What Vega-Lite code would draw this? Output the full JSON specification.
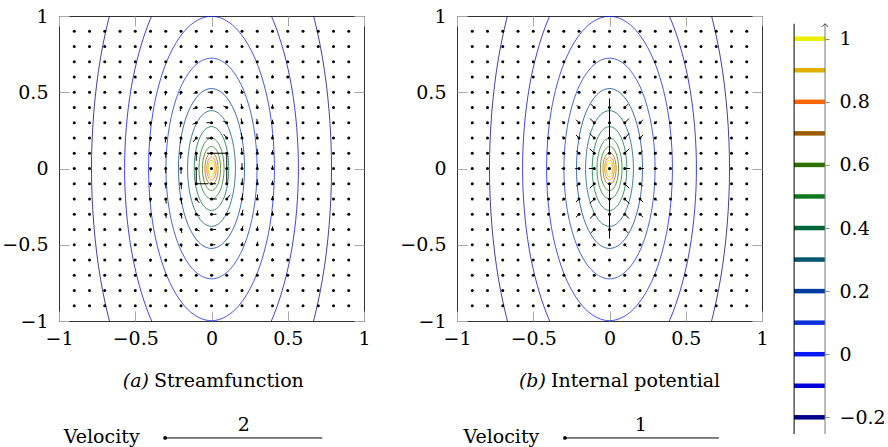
{
"$schema": "https://vega.github.io/schema/vega-lite/v6.json",
"padding": {"left": 1, "top": 6, "right": 5, "bottom": 0},
"config": {
  "font": "DejaVu Serif",
  "view": {"stroke": null},
  "axis": {"domain": false, "grid": false, "tickColor": "#a8a8a8", "tickSize": -10, "labelFont": "DejaVu Serif", "labelFontSize": 19, "labelColor": "black", "labelPadding": 21, "labelFlush": false, "labelOverlap": false, "title": null, "format": "~g"}
},
"datasets": {
  "grid": [
    {"x": -0.9, "ys": [-0.9,-0.8,-0.7,-0.6,-0.5,-0.4,-0.3,-0.2,-0.1,0,0.1,0.2,0.3,0.4,0.5,0.6,0.7,0.8,0.9]},
    {"x": -0.8, "ys": [-0.9,-0.8,-0.7,-0.6,-0.5,-0.4,-0.3,-0.2,-0.1,0,0.1,0.2,0.3,0.4,0.5,0.6,0.7,0.8,0.9]},
    {"x": -0.7, "ys": [-0.9,-0.8,-0.7,-0.6,-0.5,-0.4,-0.3,-0.2,-0.1,0,0.1,0.2,0.3,0.4,0.5,0.6,0.7,0.8,0.9]},
    {"x": -0.6, "ys": [-0.9,-0.8,-0.7,-0.6,-0.5,-0.4,-0.3,-0.2,-0.1,0,0.1,0.2,0.3,0.4,0.5,0.6,0.7,0.8,0.9]},
    {"x": -0.5, "ys": [-0.9,-0.8,-0.7,-0.6,-0.5,-0.4,-0.3,-0.2,-0.1,0,0.1,0.2,0.3,0.4,0.5,0.6,0.7,0.8,0.9]},
    {"x": -0.4, "ys": [-0.9,-0.8,-0.7,-0.6,-0.5,-0.4,-0.3,-0.2,-0.1,0,0.1,0.2,0.3,0.4,0.5,0.6,0.7,0.8,0.9]},
    {"x": -0.3, "ys": [-0.9,-0.8,-0.7,-0.6,-0.5,-0.4,-0.3,-0.2,-0.1,0,0.1,0.2,0.3,0.4,0.5,0.6,0.7,0.8,0.9]},
    {"x": -0.2, "ys": [-0.9,-0.8,-0.7,-0.6,-0.5,-0.4,-0.3,-0.2,-0.1,0,0.1,0.2,0.3,0.4,0.5,0.6,0.7,0.8,0.9]},
    {"x": -0.1, "ys": [-0.9,-0.8,-0.7,-0.6,-0.5,-0.4,-0.3,-0.2,-0.1,0,0.1,0.2,0.3,0.4,0.5,0.6,0.7,0.8,0.9]},
    {"x": 0, "ys": [-0.9,-0.8,-0.7,-0.6,-0.5,-0.4,-0.3,-0.2,-0.1,0,0.1,0.2,0.3,0.4,0.5,0.6,0.7,0.8,0.9]},
    {"x": 0.1, "ys": [-0.9,-0.8,-0.7,-0.6,-0.5,-0.4,-0.3,-0.2,-0.1,0,0.1,0.2,0.3,0.4,0.5,0.6,0.7,0.8,0.9]},
    {"x": 0.2, "ys": [-0.9,-0.8,-0.7,-0.6,-0.5,-0.4,-0.3,-0.2,-0.1,0,0.1,0.2,0.3,0.4,0.5,0.6,0.7,0.8,0.9]},
    {"x": 0.3, "ys": [-0.9,-0.8,-0.7,-0.6,-0.5,-0.4,-0.3,-0.2,-0.1,0,0.1,0.2,0.3,0.4,0.5,0.6,0.7,0.8,0.9]},
    {"x": 0.4, "ys": [-0.9,-0.8,-0.7,-0.6,-0.5,-0.4,-0.3,-0.2,-0.1,0,0.1,0.2,0.3,0.4,0.5,0.6,0.7,0.8,0.9]},
    {"x": 0.5, "ys": [-0.9,-0.8,-0.7,-0.6,-0.5,-0.4,-0.3,-0.2,-0.1,0,0.1,0.2,0.3,0.4,0.5,0.6,0.7,0.8,0.9]},
    {"x": 0.6, "ys": [-0.9,-0.8,-0.7,-0.6,-0.5,-0.4,-0.3,-0.2,-0.1,0,0.1,0.2,0.3,0.4,0.5,0.6,0.7,0.8,0.9]},
    {"x": 0.7, "ys": [-0.9,-0.8,-0.7,-0.6,-0.5,-0.4,-0.3,-0.2,-0.1,0,0.1,0.2,0.3,0.4,0.5,0.6,0.7,0.8,0.9]},
    {"x": 0.8, "ys": [-0.9,-0.8,-0.7,-0.6,-0.5,-0.4,-0.3,-0.2,-0.1,0,0.1,0.2,0.3,0.4,0.5,0.6,0.7,0.8,0.9]},
    {"x": 0.9, "ys": [-0.9,-0.8,-0.7,-0.6,-0.5,-0.4,-0.3,-0.2,-0.1,0,0.1,0.2,0.3,0.4,0.5,0.6,0.7,0.8,0.9]}
  ],
  "contours": [
    {"level": -0.2, "xs": [0.787,0.7271,0.5565,0.3012,0,-0.3012,-0.5565,-0.7271,-0.787,-0.7271,-0.5565,-0.3012,0,0.3012,0.5565,0.7271], "ys": [0,0.729,1.347,1.76,1.905,1.76,1.347,0.729,0,-0.729,-1.347,-1.76,-1.905,-1.76,-1.347,-0.729]},
    {"level": -0.1, "xs": [0.57,0.5266,0.403,0.2181,0,-0.2181,-0.403,-0.5266,-0.57,-0.5266,-0.403,-0.2181,0,0.2181,0.403,0.5266], "ys": [0,0.5277,0.9751,1.2741,1.379,1.2741,0.9751,0.5277,0,-0.5277,-0.9751,-1.2741,-1.379,-1.2741,-0.9751,-0.5277]},
    {"level": 0, "xs": [0.413,0.3816,0.292,0.1581,0,-0.1581,-0.292,-0.3816,-0.413,-0.3816,-0.292,-0.1581,0,0.1581,0.292,0.3816], "ys": [0,0.3819,0.7057,0.922,0.998,0.922,0.7057,0.3819,0,-0.3819,-0.7057,-0.922,-0.998,-0.922,-0.7057,-0.3819]},
    {"level": 0.1, "xs": [0.299,0.2762,0.2114,0.1144,0,-0.1144,-0.2114,-0.2762,-0.299,-0.2762,-0.2114,-0.1144,0,0.1144,0.2114,0.2762], "ys": [0,0.2769,0.5117,0.6685,0.7236,0.6685,0.5117,0.2769,0,-0.2769,-0.5117,-0.6685,-0.7236,-0.6685,-0.5117,-0.2769]},
    {"level": 0.2, "xs": [0.2166,0.2001,0.1532,0.0829,0,-0.0829,-0.1532,-0.2001,-0.2166,-0.2001,-0.1532,-0.0829,0,0.0829,0.1532,0.2001], "ys": [0,0.2006,0.3707,0.4843,0.5242,0.4843,0.3707,0.2006,0,-0.2006,-0.3707,-0.4843,-0.5242,-0.4843,-0.3707,-0.2006]},
    {"level": 0.3, "xs": [0.1569,0.145,0.1109,0.06,0,-0.06,-0.1109,-0.145,-0.1569,-0.145,-0.1109,-0.06,0,0.06,0.1109,0.145], "ys": [0,0.1453,0.2685,0.3508,0.3797,0.3508,0.2685,0.1453,0,-0.1453,-0.2685,-0.3508,-0.3797,-0.3508,-0.2685,-0.1453]},
    {"level": 0.4, "xs": [0.1136,0.105,0.0803,0.0435,0,-0.0435,-0.0803,-0.105,-0.1136,-0.105,-0.0803,-0.0435,0,0.0435,0.0803,0.105], "ys": [0,0.1052,0.1944,0.254,0.2749,0.254,0.1944,0.1052,0,-0.1052,-0.1944,-0.254,-0.2749,-0.254,-0.1944,-0.1052]},
    {"level": 0.5, "xs": [0.0823,0.076,0.0582,0.0315,0,-0.0315,-0.0582,-0.076,-0.0823,-0.076,-0.0582,-0.0315,0,0.0315,0.0582,0.076], "ys": [0,0.0762,0.1409,0.184,0.1992,0.184,0.1409,0.0762,0,-0.0762,-0.1409,-0.184,-0.1992,-0.184,-0.1409,-0.0762]},
    {"level": 0.6, "xs": [0.0596,0.0551,0.0421,0.0228,0,-0.0228,-0.0421,-0.0551,-0.0596,-0.0551,-0.0421,-0.0228,0,0.0228,0.0421,0.0551], "ys": [0,0.0552,0.102,0.1332,0.1442,0.1332,0.102,0.0552,0,-0.0552,-0.102,-0.1332,-0.1442,-0.1332,-0.102,-0.0552]},
    {"level": 0.7, "xs": [0.0432,0.0399,0.0305,0.0165,0,-0.0165,-0.0305,-0.0399,-0.0432,-0.0399,-0.0305,-0.0165,0,0.0165,0.0305,0.0399], "ys": [0,0.04,0.0739,0.0965,0.1045,0.0965,0.0739,0.04,0,-0.04,-0.0739,-0.0965,-0.1045,-0.0965,-0.0739,-0.04]},
    {"level": 0.8, "xs": [0.0313,0.0289,0.0221,0.012,0,-0.012,-0.0221,-0.0289,-0.0313,-0.0289,-0.0221,-0.012,0,0.012,0.0221,0.0289], "ys": [0,0.029,0.0535,0.0699,0.0757,0.0699,0.0535,0.029,0,-0.029,-0.0535,-0.0699,-0.0757,-0.0699,-0.0535,-0.029]},
    {"level": 0.9, "xs": [0.0226,0.0209,0.016,0.0086,0,-0.0086,-0.016,-0.0209,-0.0226,-0.0209,-0.016,-0.0086,0,0.0086,0.016,0.0209], "ys": [0,0.0209,0.0387,0.0505,0.0547,0.0505,0.0387,0.0209,0,-0.0209,-0.0387,-0.0505,-0.0547,-0.0505,-0.0387,-0.0209]},
    {"level": 1, "xs": [0.0164,0.0152,0.0116,0.0063,0,-0.0063,-0.0116,-0.0152,-0.0164,-0.0152,-0.0116,-0.0063,0,0.0063,0.0116,0.0152], "ys": [0,0.0152,0.0281,0.0367,0.0397,0.0367,0.0281,0.0152,0,-0.0152,-0.0281,-0.0367,-0.0397,-0.0367,-0.0281,-0.0152]}
  ],
  "arrowsA": [
    {"x": 0.1, "y": 0, "xe": 0.1, "ye": 0.1},
    {"x": 0.1, "y": -0.1, "xe": 0.1, "ye": 0},
    {"x": 0.1, "y": 0.1, "xe": 0, "ye": 0.1},
    {"x": -0.1, "y": 0, "xe": -0.1, "ye": -0.1},
    {"x": -0.1, "y": 0.1, "xe": -0.1, "ye": 0.05},
    {"x": -0.1, "y": -0.1, "xe": -0.02, "ye": -0.1},
    {"x": 0, "y": 0.1, "xe": -0.03, "ye": 0.1},
    {"x": 0, "y": -0.1, "xe": 0.03, "ye": -0.1},
    {"x": 0, "y": 0.2, "xe": -0.035, "ye": 0.2},
    {"x": 0, "y": -0.2, "xe": 0.035, "ye": -0.2},
    {"x": 0, "y": 0.3, "xe": -0.033, "ye": 0.3},
    {"x": 0, "y": -0.3, "xe": 0.033, "ye": -0.3},
    {"x": 0, "y": 0.4, "xe": -0.03, "ye": 0.4},
    {"x": 0, "y": -0.4, "xe": 0.03, "ye": -0.4},
    {"x": 0, "y": 0.5, "xe": -0.025, "ye": 0.5},
    {"x": 0, "y": -0.5, "xe": 0.025, "ye": -0.5},
    {"x": 0, "y": 0.6, "xe": -0.02, "ye": 0.6},
    {"x": 0, "y": -0.6, "xe": 0.02, "ye": -0.6},
    {"x": 0, "y": 0.7, "xe": -0.012, "ye": 0.7},
    {"x": 0, "y": -0.7, "xe": 0.012, "ye": -0.7},
    {"x": 0.1, "y": 0.2, "xe": 0.08, "ye": 0.225},
    {"x": 0.1, "y": 0.3, "xe": 0.077, "ye": 0.31},
    {"x": 0.1, "y": 0.4, "xe": 0.078, "ye": 0.41},
    {"x": 0.1, "y": 0.5, "xe": 0.082, "ye": 0.508},
    {"x": 0.1, "y": -0.2, "xe": 0.12, "ye": -0.175},
    {"x": 0.1, "y": -0.3, "xe": 0.123, "ye": -0.29},
    {"x": 0.1, "y": -0.4, "xe": 0.122, "ye": -0.39},
    {"x": 0.1, "y": -0.5, "xe": 0.118, "ye": -0.492},
    {"x": -0.1, "y": 0.2, "xe": -0.12, "ye": 0.175},
    {"x": -0.1, "y": 0.3, "xe": -0.123, "ye": 0.29},
    {"x": -0.1, "y": 0.4, "xe": -0.122, "ye": 0.39},
    {"x": -0.1, "y": 0.5, "xe": -0.118, "ye": 0.492},
    {"x": -0.1, "y": -0.2, "xe": -0.08, "ye": -0.225},
    {"x": -0.1, "y": -0.3, "xe": -0.077, "ye": -0.31},
    {"x": -0.1, "y": -0.4, "xe": -0.078, "ye": -0.41},
    {"x": -0.1, "y": -0.5, "xe": -0.082, "ye": -0.508},
    {"x": 0.2, "y": 0, "xe": 0.2, "ye": 0.035},
    {"x": 0.2, "y": 0.1, "xe": 0.197, "ye": 0.135},
    {"x": 0.2, "y": 0.2, "xe": 0.195, "ye": 0.234},
    {"x": 0.2, "y": 0.3, "xe": 0.194, "ye": 0.329},
    {"x": 0.2, "y": 0.4, "xe": 0.194, "ye": 0.424},
    {"x": 0.2, "y": 0.5, "xe": 0.195, "ye": 0.517},
    {"x": 0.2, "y": -0.1, "xe": 0.203, "ye": -0.065},
    {"x": 0.2, "y": -0.2, "xe": 0.205, "ye": -0.166},
    {"x": 0.2, "y": -0.3, "xe": 0.206, "ye": -0.271},
    {"x": 0.2, "y": -0.4, "xe": 0.206, "ye": -0.376},
    {"x": 0.2, "y": -0.5, "xe": 0.205, "ye": -0.483},
    {"x": -0.2, "y": 0, "xe": -0.2, "ye": -0.035},
    {"x": -0.2, "y": -0.1, "xe": -0.197, "ye": -0.135},
    {"x": -0.2, "y": -0.2, "xe": -0.195, "ye": -0.234},
    {"x": -0.2, "y": -0.3, "xe": -0.194, "ye": -0.329},
    {"x": -0.2, "y": -0.4, "xe": -0.194, "ye": -0.424},
    {"x": -0.2, "y": -0.5, "xe": -0.195, "ye": -0.517},
    {"x": -0.2, "y": 0.1, "xe": -0.203, "ye": 0.065},
    {"x": -0.2, "y": 0.2, "xe": -0.205, "ye": 0.166},
    {"x": -0.2, "y": 0.3, "xe": -0.206, "ye": 0.271},
    {"x": -0.2, "y": 0.4, "xe": -0.206, "ye": 0.376},
    {"x": -0.2, "y": 0.5, "xe": -0.205, "ye": 0.483},
    {"x": 0.3, "y": 0, "xe": 0.3, "ye": 0.03},
    {"x": 0.3, "y": 0.1, "xe": 0.3, "ye": 0.13},
    {"x": 0.3, "y": 0.2, "xe": 0.297, "ye": 0.23},
    {"x": 0.3, "y": 0.3, "xe": 0.297, "ye": 0.325},
    {"x": 0.3, "y": 0.4, "xe": 0.297, "ye": 0.42},
    {"x": 0.3, "y": 0.5, "xe": 0.297, "ye": 0.52},
    {"x": 0.3, "y": 0.6, "xe": 0.298, "ye": 0.612},
    {"x": 0.3, "y": -0.1, "xe": 0.3, "ye": -0.07},
    {"x": 0.3, "y": -0.2, "xe": 0.303, "ye": -0.17},
    {"x": 0.3, "y": -0.3, "xe": 0.303, "ye": -0.275},
    {"x": 0.3, "y": -0.4, "xe": 0.303, "ye": -0.38},
    {"x": 0.3, "y": -0.5, "xe": 0.303, "ye": -0.48},
    {"x": 0.3, "y": -0.6, "xe": 0.302, "ye": -0.588},
    {"x": -0.3, "y": 0, "xe": -0.3, "ye": -0.03},
    {"x": -0.3, "y": -0.1, "xe": -0.3, "ye": -0.13},
    {"x": -0.3, "y": -0.2, "xe": -0.297, "ye": -0.23},
    {"x": -0.3, "y": -0.3, "xe": -0.297, "ye": -0.325},
    {"x": -0.3, "y": -0.4, "xe": -0.297, "ye": -0.42},
    {"x": -0.3, "y": -0.5, "xe": -0.297, "ye": -0.52},
    {"x": -0.3, "y": -0.6, "xe": -0.298, "ye": -0.612},
    {"x": -0.3, "y": 0.1, "xe": -0.3, "ye": 0.07},
    {"x": -0.3, "y": 0.2, "xe": -0.303, "ye": 0.17},
    {"x": -0.3, "y": 0.3, "xe": -0.303, "ye": 0.275},
    {"x": -0.3, "y": 0.4, "xe": -0.303, "ye": 0.38},
    {"x": -0.3, "y": 0.5, "xe": -0.303, "ye": 0.48},
    {"x": -0.3, "y": 0.6, "xe": -0.302, "ye": 0.588},
    {"x": 0.4, "y": 0, "xe": 0.4, "ye": 0.02},
    {"x": 0.4, "y": 0.1, "xe": 0.4, "ye": 0.12},
    {"x": 0.4, "y": 0.2, "xe": 0.4, "ye": 0.22},
    {"x": 0.4, "y": 0.3, "xe": 0.4, "ye": 0.32},
    {"x": 0.4, "y": 0.4, "xe": 0.4, "ye": 0.42},
    {"x": 0.4, "y": 0.5, "xe": 0.4, "ye": 0.512},
    {"x": 0.4, "y": 0.6, "xe": 0.4, "ye": 0.612},
    {"x": 0.4, "y": -0.1, "xe": 0.4, "ye": -0.08},
    {"x": 0.4, "y": -0.2, "xe": 0.4, "ye": -0.18},
    {"x": 0.4, "y": -0.3, "xe": 0.4, "ye": -0.28},
    {"x": 0.4, "y": -0.4, "xe": 0.4, "ye": -0.38},
    {"x": 0.4, "y": -0.5, "xe": 0.4, "ye": -0.488},
    {"x": 0.4, "y": -0.6, "xe": 0.4, "ye": -0.588},
    {"x": -0.4, "y": 0, "xe": -0.4, "ye": -0.02},
    {"x": -0.4, "y": -0.1, "xe": -0.4, "ye": -0.12},
    {"x": -0.4, "y": -0.2, "xe": -0.4, "ye": -0.22},
    {"x": -0.4, "y": -0.3, "xe": -0.4, "ye": -0.32},
    {"x": -0.4, "y": -0.4, "xe": -0.4, "ye": -0.42},
    {"x": -0.4, "y": -0.5, "xe": -0.4, "ye": -0.512},
    {"x": -0.4, "y": -0.6, "xe": -0.4, "ye": -0.612},
    {"x": -0.4, "y": 0.1, "xe": -0.4, "ye": 0.08},
    {"x": -0.4, "y": 0.2, "xe": -0.4, "ye": 0.18},
    {"x": -0.4, "y": 0.3, "xe": -0.4, "ye": 0.28},
    {"x": -0.4, "y": 0.4, "xe": -0.4, "ye": 0.38},
    {"x": -0.4, "y": 0.5, "xe": -0.4, "ye": 0.488},
    {"x": -0.4, "y": 0.6, "xe": -0.4, "ye": 0.588}
  ],
  "arrowsB": [
    {"x": 0, "y": 0.1, "xe": 0, "ye": 0.2},
    {"x": 0, "y": 0.2, "xe": 0, "ye": 0.3},
    {"x": 0, "y": 0.3, "xe": 0, "ye": 0.4},
    {"x": 0, "y": 0.4, "xe": 0, "ye": 0.46},
    {"x": 0, "y": -0.1, "xe": 0, "ye": -0.2},
    {"x": 0, "y": -0.2, "xe": 0, "ye": -0.3},
    {"x": 0, "y": -0.3, "xe": 0, "ye": -0.4},
    {"x": 0, "y": -0.4, "xe": 0, "ye": -0.46},
    {"x": 0.1, "y": 0, "xe": 0.135, "ye": 0},
    {"x": -0.1, "y": 0, "xe": -0.135, "ye": 0},
    {"x": 0.1, "y": 0.1, "xe": 0.13, "ye": 0.13},
    {"x": 0.1, "y": 0.2, "xe": 0.13, "ye": 0.23},
    {"x": 0.1, "y": 0.3, "xe": 0.128, "ye": 0.328},
    {"x": 0.1, "y": 0.4, "xe": 0.122, "ye": 0.422},
    {"x": 0.1, "y": 0.5, "xe": 0.112, "ye": 0.512},
    {"x": -0.1, "y": 0.1, "xe": -0.13, "ye": 0.13},
    {"x": -0.1, "y": 0.2, "xe": -0.13, "ye": 0.23},
    {"x": -0.1, "y": 0.3, "xe": -0.128, "ye": 0.328},
    {"x": -0.1, "y": 0.4, "xe": -0.122, "ye": 0.422},
    {"x": -0.1, "y": 0.5, "xe": -0.112, "ye": 0.512},
    {"x": 0.1, "y": -0.1, "xe": 0.13, "ye": -0.13},
    {"x": 0.1, "y": -0.2, "xe": 0.13, "ye": -0.23},
    {"x": 0.1, "y": -0.3, "xe": 0.128, "ye": -0.328},
    {"x": 0.1, "y": -0.4, "xe": 0.122, "ye": -0.422},
    {"x": 0.1, "y": -0.5, "xe": 0.112, "ye": -0.512},
    {"x": -0.1, "y": -0.1, "xe": -0.13, "ye": -0.13},
    {"x": -0.1, "y": -0.2, "xe": -0.13, "ye": -0.23},
    {"x": -0.1, "y": -0.3, "xe": -0.128, "ye": -0.328},
    {"x": -0.1, "y": -0.4, "xe": -0.122, "ye": -0.422},
    {"x": -0.1, "y": -0.5, "xe": -0.112, "ye": -0.512},
    {"x": 0.2, "y": 0, "xe": 0.225, "ye": 0},
    {"x": -0.2, "y": 0, "xe": -0.225, "ye": 0},
    {"x": 0.2, "y": 0.1, "xe": 0.218, "ye": 0.115},
    {"x": 0.2, "y": 0.2, "xe": 0.22, "ye": 0.22},
    {"x": 0.2, "y": 0.3, "xe": 0.22, "ye": 0.32},
    {"x": 0.2, "y": 0.4, "xe": 0.215, "ye": 0.415},
    {"x": -0.2, "y": 0.1, "xe": -0.218, "ye": 0.115},
    {"x": -0.2, "y": 0.2, "xe": -0.22, "ye": 0.22},
    {"x": -0.2, "y": 0.3, "xe": -0.22, "ye": 0.32},
    {"x": -0.2, "y": 0.4, "xe": -0.215, "ye": 0.415},
    {"x": 0.2, "y": -0.1, "xe": 0.218, "ye": -0.115},
    {"x": 0.2, "y": -0.2, "xe": 0.22, "ye": -0.22},
    {"x": 0.2, "y": -0.3, "xe": 0.22, "ye": -0.32},
    {"x": 0.2, "y": -0.4, "xe": 0.215, "ye": -0.415},
    {"x": -0.2, "y": -0.1, "xe": -0.218, "ye": -0.115},
    {"x": -0.2, "y": -0.2, "xe": -0.22, "ye": -0.22},
    {"x": -0.2, "y": -0.3, "xe": -0.22, "ye": -0.32},
    {"x": -0.2, "y": -0.4, "xe": -0.215, "ye": -0.415},
    {"x": 0.3, "y": 0, "xe": 0.315, "ye": 0},
    {"x": -0.3, "y": 0, "xe": -0.315, "ye": 0},
    {"x": 0.3, "y": 0.1, "xe": 0.31, "ye": 0.11},
    {"x": 0.3, "y": 0.2, "xe": 0.31, "ye": 0.21},
    {"x": 0.3, "y": 0.3, "xe": 0.31, "ye": 0.31},
    {"x": -0.3, "y": 0.1, "xe": -0.31, "ye": 0.11},
    {"x": -0.3, "y": 0.2, "xe": -0.31, "ye": 0.21},
    {"x": -0.3, "y": 0.3, "xe": -0.31, "ye": 0.31},
    {"x": 0.3, "y": -0.1, "xe": 0.31, "ye": -0.11},
    {"x": 0.3, "y": -0.2, "xe": 0.31, "ye": -0.21},
    {"x": 0.3, "y": -0.3, "xe": 0.31, "ye": -0.31},
    {"x": -0.3, "y": -0.1, "xe": -0.31, "ye": -0.11},
    {"x": -0.3, "y": -0.2, "xe": -0.31, "ye": -0.21},
    {"x": -0.3, "y": -0.3, "xe": -0.31, "ye": -0.31}
  ]
},
"bounds": "flush",
"spacing": 93,
"hconcat": [
  {
    "width": 305, "height": 305,
    "view": {"stroke": "#333333", "strokeWidth": 1},
    "resolve": {"axis": {"x": "independent", "y": "independent"}},
    "layer": [
      {
        "data": {"name": "contours"},
        "transform": [{"flatten": ["xs", "ys"], "as": ["x", "y"]}],
        "mark": {"type": "line", "clip": true, "interpolate": "cardinal-closed", "strokeWidth": 1, "opacity": 0.75},
        "encoding": {
          "x": {"field": "x", "type": "quantitative", "scale": {"domain": [-1, 1], "nice": false, "zero": false}, "axis": {"orient": "bottom", "values": [-1, -0.5, 0, 0.5, 1], "labelPadding": 18}},
          "y": {"field": "y", "type": "quantitative", "scale": {"domain": [-1, 1], "nice": false, "zero": false}, "axis": {"orient": "left", "values": [-1, -0.5, 0, 0.5, 1]}},
          "color": {"field": "level", "type": "ordinal", "legend": null, "scale": {"domain": [-0.2,-0.1,0,0.1,0.2,0.3,0.4,0.5,0.6,0.7,0.8,0.9,1], "range": ["#000088","#0000dc","#0818fa","#0c30dc","#003ca0","#005870","#00683c","#107820","#2e7000","#9e5a00","#ff6600","#e2b000","#ecf000"]}},
          "order": {"value": null}
        }
      },
      {
        "data": {"name": "grid"},
        "transform": [{"flatten": ["ys"], "as": ["y"]}],
        "mark": {"type": "circle", "size": 9, "color": "black", "opacity": 1},
        "encoding": {
          "x": {"field": "x", "type": "quantitative", "scale": {"domain": [-1, 1], "nice": false, "zero": false}, "axis": {"orient": "top", "values": [-1, -0.5, 0, 0.5, 1], "labels": false}},
          "y": {"field": "y", "type": "quantitative", "scale": {"domain": [-1, 1], "nice": false, "zero": false}, "axis": {"orient": "right", "values": [-1, -0.5, 0, 0.5, 1], "labels": false}}
        }
      },
      {
        "data": {"name": "arrowsA"},
        "mark": {"type": "rule", "color": "black", "strokeWidth": 1},
        "encoding": {
          "x": {"field": "x", "type": "quantitative", "axis": null},
          "y": {"field": "y", "type": "quantitative", "axis": null},
          "x2": {"field": "xe"},
          "y2": {"field": "ye"}
        }
      },
      {
        "data": {"values": [{}]},
        "layer": [
          {"mark": {"type": "text", "text": "(a)", "font": "DejaVu Serif", "fontStyle": "italic", "fontSize": 19, "align": "right", "baseline": "alphabetic", "dx": -2},
           "encoding": {"x": {"datum": -0.397, "axis": null}, "y": {"datum": -1.433, "axis": null}}},
          {"mark": {"type": "text", "text": "Streamfunction", "font": "DejaVu Serif", "fontSize": 19, "align": "left", "baseline": "alphabetic", "dx": 3},
           "encoding": {"x": {"datum": -0.397, "axis": null}, "y": {"datum": -1.433, "axis": null}}},
          {"mark": {"type": "text", "text": "Velocity", "font": "DejaVu Serif", "fontSize": 19, "align": "center", "baseline": "alphabetic"},
           "encoding": {"x": {"datum": -0.72, "axis": null}, "y": {"datum": -1.8, "axis": null}}},
          {"mark": {"type": "circle", "size": 14, "color": "black", "opacity": 1},
           "encoding": {"x": {"datum": -0.304, "axis": null}, "y": {"datum": -1.767, "axis": null}}},
          {"mark": {"type": "rule", "color": "black", "strokeWidth": 1},
           "encoding": {"x": {"datum": -0.304, "axis": null}, "x2": {"datum": 0.726}, "y": {"datum": -1.767, "axis": null}}},
          {"mark": {"type": "text", "text": "2", "font": "DejaVu Serif", "fontSize": 19, "align": "center", "baseline": "alphabetic"},
           "encoding": {"x": {"datum": 0.211, "axis": null}, "y": {"datum": -1.72, "axis": null}}}
        ]
      }
    ]
  },
  {
    "width": 305, "height": 305,
    "view": {"stroke": "#333333", "strokeWidth": 1},
    "resolve": {"axis": {"x": "independent", "y": "independent"}},
    "layer": [
      {
        "data": {"name": "contours"},
        "transform": [{"flatten": ["xs", "ys"], "as": ["x", "y"]}],
        "mark": {"type": "line", "clip": true, "interpolate": "cardinal-closed", "strokeWidth": 1, "opacity": 0.75},
        "encoding": {
          "x": {"field": "x", "type": "quantitative", "scale": {"domain": [-1, 1], "nice": false, "zero": false}, "axis": {"orient": "bottom", "values": [-1, -0.5, 0, 0.5, 1], "labelPadding": 18}},
          "y": {"field": "y", "type": "quantitative", "scale": {"domain": [-1, 1], "nice": false, "zero": false}, "axis": {"orient": "left", "values": [-1, -0.5, 0, 0.5, 1]}},
          "color": {"field": "level", "type": "ordinal", "legend": null, "scale": {"domain": [-0.2,-0.1,0,0.1,0.2,0.3,0.4,0.5,0.6,0.7,0.8,0.9,1], "range": ["#000088","#0000dc","#0818fa","#0c30dc","#003ca0","#005870","#00683c","#107820","#2e7000","#9e5a00","#ff6600","#e2b000","#ecf000"]}},
          "order": {"value": null}
        }
      },
      {
        "data": {"name": "grid"},
        "transform": [{"flatten": ["ys"], "as": ["y"]}],
        "mark": {"type": "circle", "size": 9, "color": "black", "opacity": 1},
        "encoding": {
          "x": {"field": "x", "type": "quantitative", "scale": {"domain": [-1, 1], "nice": false, "zero": false}, "axis": {"orient": "top", "values": [-1, -0.5, 0, 0.5, 1], "labels": false}},
          "y": {"field": "y", "type": "quantitative", "scale": {"domain": [-1, 1], "nice": false, "zero": false}, "axis": {"orient": "right", "values": [-1, -0.5, 0, 0.5, 1], "labels": false}}
        }
      },
      {
        "data": {"name": "arrowsB"},
        "mark": {"type": "rule", "color": "black", "strokeWidth": 1},
        "encoding": {
          "x": {"field": "x", "type": "quantitative", "axis": null},
          "y": {"field": "y", "type": "quantitative", "axis": null},
          "x2": {"field": "xe"},
          "y2": {"field": "ye"}
        }
      },
      {
        "data": {"values": [{}]},
        "layer": [
          {"mark": {"type": "text", "text": "(b)", "font": "DejaVu Serif", "fontStyle": "italic", "fontSize": 19, "align": "right", "baseline": "alphabetic", "dx": -2},
           "encoding": {"x": {"datum": -0.404, "axis": null}, "y": {"datum": -1.433, "axis": null}}},
          {"mark": {"type": "text", "text": "Internal potential", "font": "DejaVu Serif", "fontSize": 19, "align": "left", "baseline": "alphabetic", "dx": 3},
           "encoding": {"x": {"datum": -0.404, "axis": null}, "y": {"datum": -1.433, "axis": null}}},
          {"mark": {"type": "text", "text": "Velocity", "font": "DejaVu Serif", "fontSize": 19, "align": "center", "baseline": "alphabetic"},
           "encoding": {"x": {"datum": -0.709, "axis": null}, "y": {"datum": -1.8, "axis": null}}},
          {"mark": {"type": "circle", "size": 14, "color": "black", "opacity": 1},
           "encoding": {"x": {"datum": -0.292, "axis": null}, "y": {"datum": -1.767, "axis": null}}},
          {"mark": {"type": "rule", "color": "black", "strokeWidth": 1},
           "encoding": {"x": {"datum": -0.292, "axis": null}, "x2": {"datum": 0.717}, "y": {"datum": -1.767, "axis": null}}},
          {"mark": {"type": "text", "text": "1", "font": "DejaVu Serif", "fontSize": 19, "align": "center", "baseline": "alphabetic"},
           "encoding": {"x": {"datum": 0.206, "axis": null}, "y": {"datum": -1.72, "axis": null}}}
        ]
      }
    ]
  },
  {
    "width": 1, "height": 418,
    "layer": [
      {
        "data": {"name": "contours"},
        "mark": {"type": "rule", "strokeWidth": 4.5, "strokeCap": "butt"},
        "encoding": {
          "x": {"datum": 0, "type": "quantitative", "scale": {"domain": [1.9677, 2.0], "nice": false, "zero": false}, "axis": null},
          "x2": {"datum": 1},
          "y": {"field": "level", "type": "quantitative", "scale": {"domain": [-0.2529, 1.072], "nice": false, "zero": false},
                "axis": {"orient": "left", "offset": 30, "values": [-0.2, 0, 0.2, 0.4, 0.6, 0.8, 1], "tickSize": -4, "tickColor": "#888888", "labelAlign": "left", "labelPadding": -10}},
          "color": {"field": "level", "type": "ordinal", "legend": null, "scale": {"domain": [-0.2,-0.1,0,0.1,0.2,0.3,0.4,0.5,0.6,0.7,0.8,0.9,1], "range": ["#000088","#0000dc","#0818fa","#0c30dc","#003ca0","#005870","#00683c","#107820","#2e7000","#9e5a00","#ff6600","#e2b000","#ecf000"]}}
        }
      },
      {
        "data": {"values": [{}]},
        "mark": {"type": "rule", "color": "black", "strokeWidth": 1},
        "encoding": {
          "x": {"datum": 0, "type": "quantitative", "scale": {"domain": [1.9677, 2.0], "nice": false, "zero": false}, "axis": null},
          "y": {"datum": -0.2529, "type": "quantitative", "scale": {"domain": [-0.2529, 1.072], "nice": false, "zero": false}},
          "y2": {"datum": 1.0475}
        }
      },
      {
        "data": {"values": [{}]},
        "mark": {"type": "rule", "color": "#777777", "strokeWidth": 1},
        "encoding": {
          "x": {"datum": 1, "type": "quantitative", "scale": {"domain": [1.9677, 2.0], "nice": false, "zero": false}, "axis": null},
          "y": {"datum": -0.2529, "type": "quantitative", "scale": {"domain": [-0.2529, 1.072], "nice": false, "zero": false}},
          "y2": {"datum": 1.0475}
        }
      },
      {
        "data": {"values": [{}]},
        "mark": {"type": "point", "shape": "M-1,1L0,0L1,1", "filled": false, "stroke": "black", "strokeWidth": 1, "size": 40},
        "encoding": {
          "x": {"datum": 1, "type": "quantitative", "scale": {"domain": [1.9677, 2.0], "nice": false, "zero": false}, "axis": null},
          "y": {"datum": 1.0475, "type": "quantitative", "scale": {"domain": [-0.2529, 1.072], "nice": false, "zero": false}}
        }
      }
    ]
  }
]
}
